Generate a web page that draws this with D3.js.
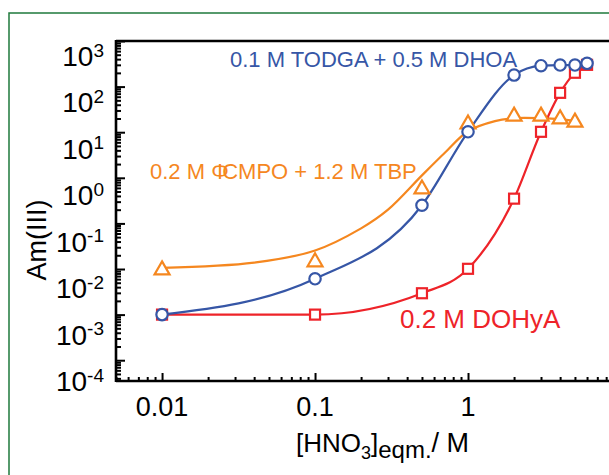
<!DOCTYPE html>
<html>
<head>
<meta charset="utf-8">
<script src="https://cdn.jsdelivr.net/npm/d3@7"></script>
<style>
  html, body { margin: 0; padding: 0; background: #fff; }
  svg { display: block; }
  text { font-family: "Liberation Sans", Arial, Helvetica, sans-serif; }
</style>
</head>
<body>
<svg id="chart" width="609" height="475"></svg>
<script>
// HNO3 equilibrium concentrations (M) used for the measured points
const hno3 = [0.01, 0.1, 0.5, 1, 2, 3, 4, 5, 6];
const hno3Cmpo = [0.01, 0.1, 0.5, 1, 2, 3, 4, 5];

// Distribution ratios D(Am(III)) for each solvent system
const dTodga = [1.0e-3, 6.1e-3, 0.25, 10.2, 179, 287, 297, 297, 324];
const dCmpo  = [0.0106, 0.0159, 0.63, 16.8, 24.9, 24.9, 21.7, 18.4];
const dDohya = [1.0e-3, 1.0e-3, 2.94e-3, 0.0101, 0.349, 10.2, 73, 201, 300];

// Fitted trend for the CMPO/TBP system (does not pass through every point)
const cmpoFitX = [0.01, 0.04, 0.1, 0.2, 0.3, 0.5, 0.7, 1, 1.5, 2, 3, 4, 5];
const cmpoFitY = [0.0106, 0.0138, 0.0255, 0.078, 0.2, 1.13, 3.45, 10.5, 17.5, 20.3, 20.3, 19.3, 17.5];

// Axis ticks
const yPowers = [3, 2, 1, 0, -1, -2, -3, -4];
const xTickValues = [0.01, 0.1, 1];
const xTickLabels = ["0.01", "0.1", "1"];

const seriesLabels = {
  todga: "0.1 M TODGA + 0.5 M DHOA",
  cmpoA: "0.2 M \u03A6",
  cmpoB: "CMPO + 1.2 M TBP",
  dohya: "0.2 M DOHyA"
};

const BLUE = "#3656a6", ORANGE = "#f5871f", RED = "#ee2329", FRAME = "#1f7a3c";

const svg = d3.select("#chart");
svg.append("rect").attr("width", 609).attr("height", 475).attr("fill", "#fff");

// outer panel frame
svg.append("rect")
  .attr("x", 9).attr("y", 13).attr("width", 800).attr("height", 600)
  .attr("fill", "none").attr("stroke", FRAME).attr("stroke-width", 1.5);

const x = d3.scaleLog().domain([0.005, 10]).range([116, 621]);
const y = d3.scaleLog().domain([3.5e-5, 1000]).range([381, 41]);
// top edge of the exponent of each power-of-ten label beside the y axis
const yLab = d3.scaleLog().domain([1e3, 1e-4]).range([43, 368]);

const axisCol = "#000";

// minor / major ticks
const yMajor = yPowers.map(p => Math.pow(10, p));
const yMinor = [];
for (let p = -5; p < 3; p++) for (let k = 2; k <= 9; k++) {
  const v = k * Math.pow(10, p);
  if (v >= 3.5e-5 && v <= 1000) yMinor.push(v);
}
const xMajor = xTickValues;
const xMinor = [];
for (let p = -3; p < 1; p++) for (let k = 2; k <= 9; k++) {
  const v = k * Math.pow(10, p);
  if (v >= 0.005 && v <= 10) xMinor.push(v);
}

const gL = svg.append("g").attr("transform", "translate(116,0)");
gL.append("g").call(d3.axisRight(y).tickValues(yMinor).tickSize(5).tickFormat(""));
gL.append("g").call(d3.axisRight(y).tickValues(yMajor).tickSize(9).tickFormat(""));
gL.selectAll(".domain").remove();
gL.selectAll("line").attr("stroke", axisCol).attr("stroke-width", 2);

const gB = svg.append("g").attr("transform", "translate(0,381)");
gB.append("g").call(d3.axisTop(x).tickValues(xMinor).tickSize(4).tickFormat(""));
gB.append("g").call(d3.axisTop(x).tickValues(xMajor).tickSize(8).tickFormat(""));
gB.selectAll(".domain").remove();
gB.selectAll("line").attr("stroke", axisCol).attr("stroke-width", 2);

// frame lines
svg.append("line").attr("x1", 116).attr("x2", 609).attr("y1", 41).attr("y2", 41)
  .attr("stroke", axisCol).attr("stroke-width", 2.6);
svg.append("line").attr("x1", 116).attr("x2", 609).attr("y1", 381).attr("y2", 381)
  .attr("stroke", axisCol).attr("stroke-width", 2.6);
svg.append("line").attr("x1", 116).attr("x2", 116).attr("y1", 40).attr("y2", 382)
  .attr("stroke", axisCol).attr("stroke-width", 2.6);

// y tick labels 10^n
yPowers.forEach(p => {
  const supTop = yLab(Math.pow(10, p));
  const t = svg.append("text").attr("x", 104).attr("y", supTop + 23)
    .attr("text-anchor", "end").attr("fill", "#000");
  t.append("tspan").attr("font-size", 28).text("10");
  t.append("tspan").attr("font-size", 19).attr("dy", -9.5).text(String(p));
});

// x tick labels
xTickValues.forEach((v, i) => {
  svg.append("text").attr("x", x(v)).attr("y", 416).attr("text-anchor", "middle")
    .attr("font-size", 27).attr("fill", "#000").text(xTickLabels[i]);
});

// axis titles
svg.append("text")
  .attr("transform", "translate(46,240) rotate(-90)")
  .attr("text-anchor", "middle").attr("font-size", 27).attr("fill", "#000")
  .text("Am(III)");

const xt = svg.append("text").attr("x", 296).attr("y", 452).attr("fill", "#000");
xt.append("tspan").attr("font-size", 26).text("[HNO");
xt.append("tspan").attr("font-size", 18).attr("dy", 7).text("3");
xt.append("tspan").attr("font-size", 26).attr("dy", -7).text("]");
xt.append("tspan").attr("font-size", 24).attr("dy", 6).text("eqm.");
xt.append("tspan").attr("font-size", 27).attr("dy", -6).text("/ M");

// curves
const line = d3.line().x(d => x(d[0])).y(d => y(d[1])).curve(d3.curveMonotoneX);
const fitLine = d3.line().x(d => x(d[0])).y(d => y(d[1])).curve(d3.curveCatmullRom.alpha(0.5));
const cmpoFit = cmpoFitX.map((v, i) => [v, cmpoFitY[i]]);
const todgaPts = hno3.map((v, i) => [v, dTodga[i]]);
const dohyaPts = hno3.map((v, i) => [v, dDohya[i]]);
const cmpoPts = hno3Cmpo.map((v, i) => [v, dCmpo[i]]);

svg.append("path").attr("d", fitLine(cmpoFit)).attr("fill", "none")
  .attr("stroke", ORANGE).attr("stroke-width", 2.2);
svg.append("path").attr("d", line(dohyaPts)).attr("fill", "none")
  .attr("stroke", RED).attr("stroke-width", 2.2);
svg.append("path").attr("d", line(todgaPts)).attr("fill", "none")
  .attr("stroke", BLUE).attr("stroke-width", 2.2);

// markers
svg.append("g").selectAll("path").data(cmpoPts).join("path")
  .attr("transform", d => `translate(${x(d[0])},${y(d[1])})`)
  .attr("d", "M0,-6.5L7.5,6.5L-7.5,6.5Z")
  .attr("fill", "#fff").attr("stroke", ORANGE).attr("stroke-width", 2.2);
svg.append("g").selectAll("rect").data(dohyaPts).join("rect")
  .attr("x", d => x(d[0]) - 5).attr("y", d => y(d[1]) - 5)
  .attr("width", 10).attr("height", 10)
  .attr("fill", "#fff").attr("stroke", RED).attr("stroke-width", 2.2);
svg.append("g").selectAll("circle").data(todgaPts).join("circle")
  .attr("cx", d => x(d[0])).attr("cy", d => y(d[1])).attr("r", 5.7)
  .attr("fill", "#fff").attr("stroke", BLUE).attr("stroke-width", 2.2);

// series labels
svg.append("text").attr("x", 230).attr("y", 67).attr("font-size", 22)
  .attr("fill", BLUE).text(seriesLabels.todga);
const ol = svg.append("text").attr("x", 150).attr("y", 179).attr("font-size", 22)
  .attr("fill", ORANGE);
ol.append("tspan").text(seriesLabels.cmpoA);
ol.append("tspan").attr("dx", -6.5).text(seriesLabels.cmpoB);
svg.append("text").attr("x", 400).attr("y", 328).attr("font-size", 26)
  .attr("fill", RED).text(seriesLabels.dohya);
</script>
</body>
</html>
